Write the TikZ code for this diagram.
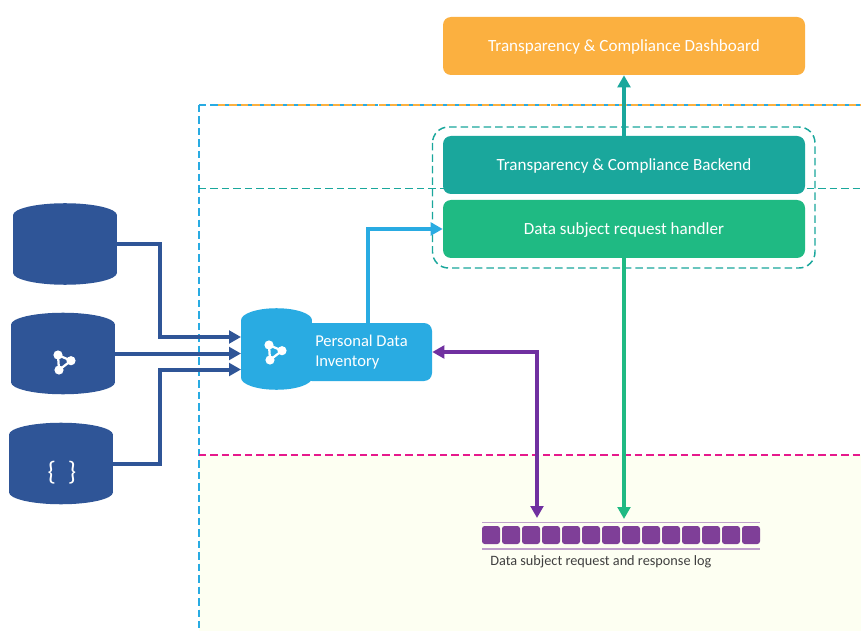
\documentclass[tikz,border=0pt]{standalone}
\usepackage{fontspec}
\setmainfont{Carlito}
\usetikzlibrary{shapes,arrows.meta,positioning}

\definecolor{DarkBlue}{HTML}{2F5597}
\definecolor{SkyBlue}{HTML}{29ABE2}
\definecolor{Amber}{HTML}{FBB040}
\definecolor{Teal}{HTML}{1AA79C}
\definecolor{Mint}{HTML}{1FBA83}
\definecolor{Plum}{HTML}{7030A0}
\definecolor{LogPlum}{HTML}{7F3F98}
\definecolor{Cream}{HTML}{FDFFF2}
\definecolor{Rose}{HTML}{E6198C}

\begin{document}
\begin{tikzpicture}[x=0.75pt, y=-0.75pt]
	\tikzstyle{Source}	= [rectangle, draw=none, fill=DarkBlue, minimum width=78pt, minimum height=42.75pt, inner sep=0pt]
	\tikzstyle{Panel}	= [rectangle, rounded corners=6pt, minimum width=271.5pt, minimum height=43.5pt, inner sep=0pt, text=white, text height=10pt, text depth=1pt, font=\fontsize{12.8pt}{15pt}\selectfont]
	\tikzstyle{Slot}	= [rectangle, rounded corners=2pt, fill=LogPlum, minimum width=13.5pt, minimum height=13.5pt, inner sep=0pt]
	\tikzstyle{Feed}	= [line width=3pt, DarkBlue, -{Triangle[length=9pt,width=9.5pt]}]
	\tikzstyle{Zone}	= [line width=1.1pt, dash pattern=on 5.6pt off 3pt]

	\useasboundingbox (0,0) rectangle (861,631);
	\fill[white] (0,0) rectangle (861,631);
	\fill[Cream] (199,455) rectangle (861,631);

	\draw [Zone, SkyBlue] (199,105) -- (199,631);
	\draw [Zone, SkyBlue] (199,105) -- (861,105);
	\draw [Zone, Amber] (218,105) -- (861,105);
	\draw [Zone, Teal] (199,188.5) -- (861,188.5);
	\draw [Zone, Rose] (199,455) -- (861,455);
	\draw [Zone, Teal, rounded corners=12pt] (432.5,127) rectangle (815,268);

	\foreach \dn/\dx/\dy in {db1/65/244, db2/63/353.5, db3/61/463.5} {
		\node (\dn) at (\dx, \dy) [Source] {};
		\fill [DarkBlue] (\dn.north) circle [x radius=39pt, y radius=9pt];
		\fill [DarkBlue] (\dn.south) circle [x radius=39pt, y radius=9pt];
	}
	\node (braces) at (62, 473) [inner sep=0pt, text=white, font=\fontsize{20pt}{22pt}\selectfont] {\{\hspace{9pt}\}};

	\node (box) at (368, 352) [rectangle, rounded corners=6pt, fill=SkyBlue, minimum width=96pt, minimum height=43.5pt, inner sep=0pt] {};
	\node (inv) at (276.5, 349) [Source, fill=SkyBlue, minimum width=53.25pt] {};
	\fill [SkyBlue] (inv.north) circle [x radius=26.6pt, y radius=9pt];
	\fill [SkyBlue] (inv.south) circle [x radius=26.6pt, y radius=9pt];
	\node (invlabel) at (315, 352) [anchor=west, align=left, inner sep=0pt, text=white, font=\fontsize{12.4pt}{15pt}\selectfont] {Personal Data\\Inventory};

	\node (dash) at (624, 46) [Panel, fill=Amber] {Transparency \& Compliance Dashboard};
	\node (back) at (624, 165) [Panel, fill=Teal] {Transparency \& Compliance Backend};
	\node (hand) at (624, 229) [Panel, fill=Mint] {Data subject request handler};

	\foreach \hx/\hy in {0/0, 211/-10} {
		\draw [white, line width=1.7pt, line join=round] (58+\hx, 355+\hy) -- (71+\hx, 360.7+\hy) -- (59+\hx, 370+\hy) -- cycle;
		\fill [white] (58+\hx, 355+\hy) circle (4.6);
		\fill [white] (71+\hx, 360.7+\hy) circle (4.6);
		\fill [white] (59+\hx, 370+\hy) circle (4.6);
	}

	\draw [LogPlum!50, line width=0.8pt] (482,522.5) -- (760,522.5);
	\draw [LogPlum!50, line width=0.8pt] (482,549) -- (760,549);
	\foreach \i in {0,...,13} {
		\node (slot\i) at (491+20*\i, 535) [Slot] {};
	}
	\node (loglabel) at (490, 561.5) [anchor=west, inner sep=0pt, text=black!75, font=\fontsize{10.7pt}{12pt}\selectfont] {Data subject request and response log};

	\coordinate (in1) at (241, 337);
	\coordinate (in2) at (241, 353.5);
	\coordinate (in3) at (241, 369.5);
	\coordinate (bend1) at (160, 337);
	\coordinate (bend3) at (160, 369.5);
	\coordinate (login) at (537, 518);
	\coordinate (logout) at (624, 519);

	\draw (db1.east) -| (bend1) -- (in1) [Feed];
	\draw (db2.east) -- (in2) [Feed];
	\draw (db3.east) -| (bend3) -- (in3) [Feed];
	\draw (box.north) |- (hand.west) [line width=3pt, SkyBlue, -{Triangle[length=9pt,width=9.5pt]}];
	\draw (back.north) -- (dash.south) [line width=3pt, Teal, -{Triangle[length=9pt,width=9.5pt]}];
	\draw (box.east) -| (login) [line width=3pt, Plum, {Triangle[length=9pt,width=9.5pt]}-{Triangle[length=9pt,width=9.5pt]}];
	\draw (hand.south) -- (logout) [line width=2.4pt, Mint, -{Triangle[length=9pt,width=9.5pt]}];
\end{tikzpicture}
\end{document}
